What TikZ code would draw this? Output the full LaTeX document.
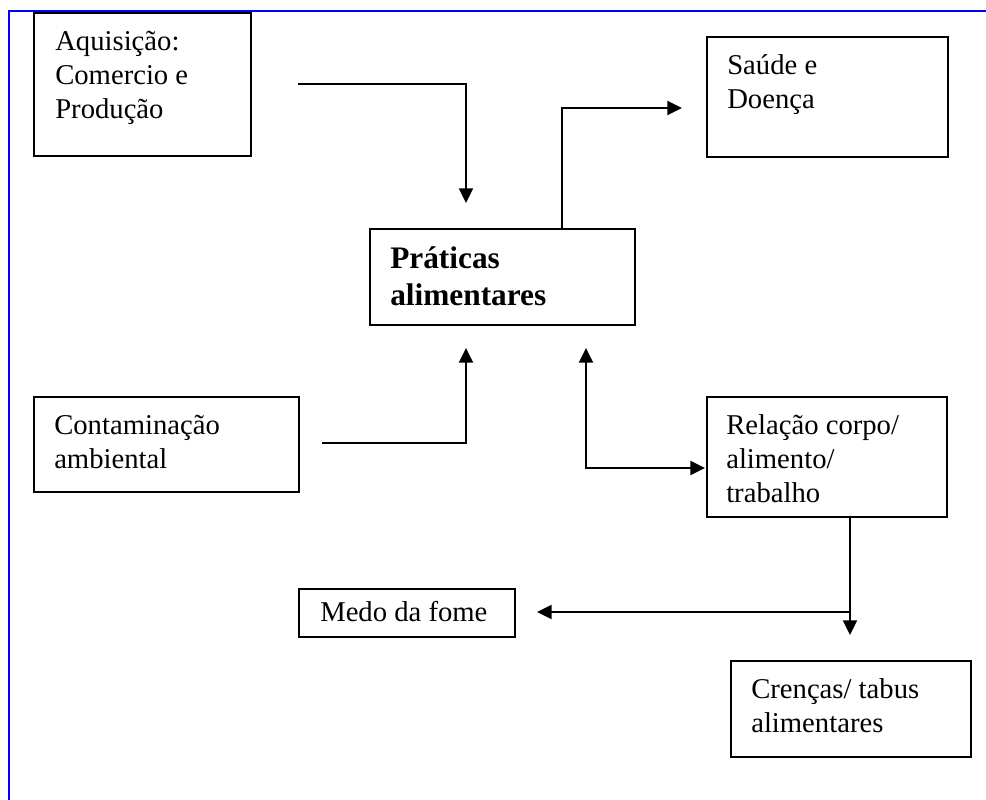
\documentclass[tikz,border=0pt]{standalone}
\usepackage{fontspec}
\setmainfont{Liberation Serif}
\usetikzlibrary{positioning,arrows.meta}
\tikzset{
  box/.style={draw, rectangle, anchor=north west, inner sep=0mm, line width=1.5pt
  },
  txt/.style={inner sep=0mm, align=left, font=\fontsize{21.5pt}{25.5pt}\selectfont
  },
  arr/.style={-{Triangle[length=11pt,width=10.5pt]}, line width=1.5pt
  }
}

\begin{document}
\begin{tikzpicture}[x=0.75pt,y=-0.75pt]
   \useasboundingbox (0,0) rectangle (986,800);
   \draw[blue, line width=1.5pt] (9,800) -- (9,11) -- (986,11);

   \node[box, minimum width=162.75pt, minimum height=107.25pt] (aq) at (33,12) {};
   \node[box, minimum width=180.75pt, minimum height=90pt] (sd) at (706,36) {};
   \node[box, minimum width=198.75pt, minimum height=72pt] (pr) at (369,228) {};
   \node[box, minimum width=198.75pt, minimum height=71.25pt] (ct) at (33,396) {};
   \node[box, minimum width=180pt, minimum height=90pt] (rl) at (706,396) {};
   \node[box, minimum width=162pt, minimum height=36pt] (md) at (298,588) {};
   \node[box, minimum width=180pt, minimum height=72pt] (cr) at (730,660) {};

   % anchored on the baseline of the last line
   \node[txt, below right=79.5pt and 16.5pt of aq.north west, anchor=base west] (aqtext) {Aquisição:\\Comercio e\\Produção};
   \node[txt, below right=54pt and 15.75pt of sd.north west, anchor=base west] (sdtext) {Saúde e\\Doença};
   \node[txt, below right=57.75pt and 15.75pt of pr.north west, anchor=base west,
     font=\fontsize{23.5pt}{27.5pt}\selectfont\bfseries] (prtext) {Práticas\\alimentares};
   \node[txt, below right=54pt and 15.75pt of ct.north west, anchor=base west] (cttext) {Contaminação\\ambiental};
   \node[txt, below right=79.5pt and 15pt of rl.north west, anchor=base west] (rltext) {Relação corpo/\\alimento/\\trabalho};
   \node[txt, below right=24.75pt and 16.5pt of md.north west, anchor=base west] (mdtext) {Medo da fome};
   \node[txt, below right=54pt and 15.75pt of cr.north west, anchor=base west] (crtext) {Crenças/ tabus\\alimentares};

   \coordinate (aqout) at (298,84);
   \coordinate (prin1) at (466,203);
   \coordinate (prout) at (562,228);
   \coordinate (sdin) at (682,108);
   \coordinate (ctout) at (322,443);
   \coordinate (prin2) at (466,348);
   \coordinate (prin3) at (586,348);
   \coordinate (rlin) at (705,468);
   \coordinate (rlout) at (850,516);
   \coordinate (crin) at (850,635);
   \coordinate (split) at (850,612);
   \coordinate (mdin) at (537,612);

   \draw[arr] (aqout) -| (prin1);
   \draw[arr] (prout) |- (sdin);
   \draw[arr] (ctout) -| (prin2);
   \draw[arr, {Triangle[length=11pt,width=10.5pt]}-{Triangle[length=11pt,width=10.5pt]}] (prin3) |- (rlin);
   \draw[arr] (rlout) -- (crin);
   \draw[arr] (split) -- (mdin);
\end{tikzpicture}
\end{document}
